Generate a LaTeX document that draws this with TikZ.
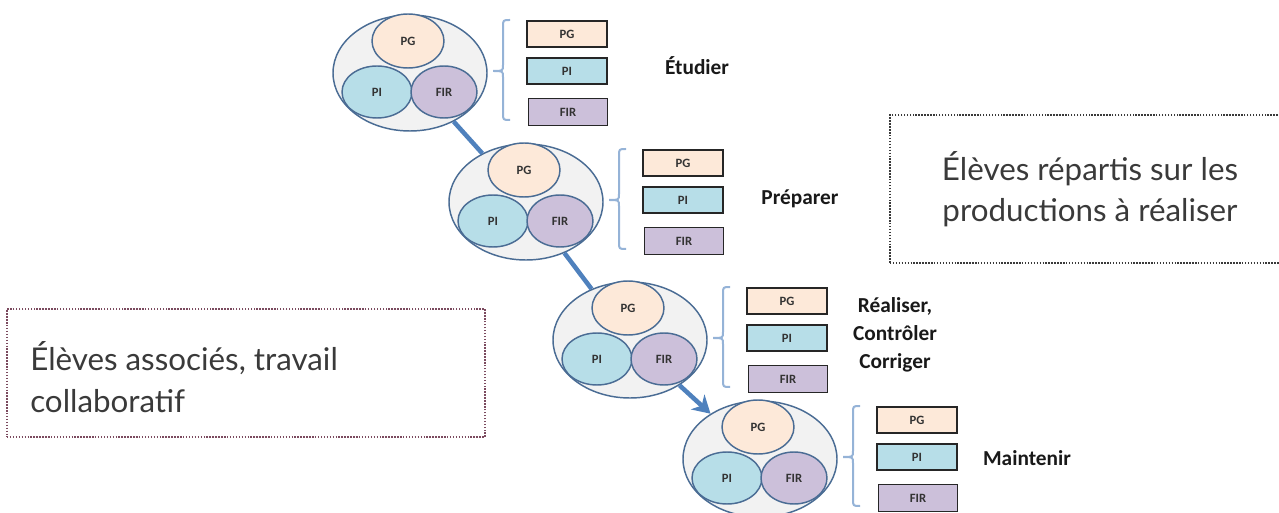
\documentclass[tikz,border=0pt]{standalone}
\usepackage{fontspec}
\setmainfont{Carlito}
\newfontfamily\notefont{Lato}
\usetikzlibrary{shapes.geometric,arrows.meta}
\definecolor{edgeblue}{HTML}{4A6C94}
\definecolor{outerfill}{HTML}{F2F2F2}
\definecolor{pgfill}{HTML}{FDE9D9}
\definecolor{pifill}{HTML}{B7DEE8}
\definecolor{firfill}{HTML}{CCC0DA}
\definecolor{linkblue}{HTML}{4F81BD}
\definecolor{braceblue}{HTML}{95B3D7}
\definecolor{notegray}{HTML}{3A3A3A}
\definecolor{leftdot}{HTML}{7B4A5E}
\begin{document}
\begin{tikzpicture}[x=0.75pt,y=-0.75pt,
  outer/.style={ellipse, draw=edgeblue, line width=1.1pt, fill=outerfill, inner sep=0pt,
    minimum width=154*0.75pt, minimum height=116*0.75pt},
  inner/.style={ellipse, draw=edgeblue, line width=1.1pt, inner sep=0pt,
    font=\bfseries\fontsize{9.5}{10}\selectfont, text=black!80},
  lab/.style={draw=black!85, line width=1.3pt, inner sep=0pt,
    minimum width=80*0.75pt, minimum height=26*0.75pt,
    font=\bfseries\fontsize{9.5}{10}\selectfont, text=black!80},
  stage/.style={font=\bfseries\fontsize{16}{20}\selectfont, align=center, text=black!90},
  link/.style={draw=linkblue, line width=3.4pt},
  bracestyle/.style={draw=braceblue, line width=1.5pt},
  note/.style={font=\notefont\fontsize{23.5}{31}\selectfont, text=notegray},
  dotbox/.style={line width=1.1pt, dash pattern=on 1.1pt off 1.1pt, inner sep=0pt}
]
\useasboundingbox (0,0) rectangle (1279,513);

\foreach \i/\gx/\gy in {1/410/73, 2/526/202, 3/630/340, 4/760/459}{
  \begin{scope}[shift={(\gx,\gy)}]
    \node[outer] (e\i) at (0,0) {};
    \node[inner, fill=pgfill, minimum width=72*0.75pt, minimum height=54*0.75pt] (pg\i) at (-2,-32) {PG};
    \node[inner, fill=pifill, minimum width=70*0.75pt, minimum height=52*0.75pt] (pi\i) at (-33,19) {PI};
    \node[inner, fill=firfill, minimum width=66*0.75pt, minimum height=52*0.75pt] (fir\i) at (34,19) {FIR};
    \draw[bracestyle] (100,-53) .. controls (93,-53) .. (93,-46) -- (93,-8)
      .. controls (93,-2) .. (83,-2) .. controls (93,-2) .. (93,4) -- (93,40)
      .. controls (93,47) .. (100,47);
    \node[lab, fill=pgfill] (rpg\i) at (157,-39) {PG};
    \node[lab, fill=pifill] (rpi\i) at (157,-2) {PI};
    \node[lab, fill=firfill, minimum width=79*0.75pt, minimum height=27*0.75pt] (rfir\i) at (158,39) {FIR};
  \end{scope}
}

\draw[link] (e1) -- (e2);
\draw[link] (e2) -- (e3);
\draw[link, -{Stealth[length=13pt, width=15pt, inset=4pt]}] (e3) -- (e4);

\node[stage] (s1) at (697,66) {Étudier};
\node[stage] (s2) at (800,199) {Préparer};
\node[stage] (s3) at (895,335) {Réaliser,\\[1pt]Contrôler\\[1pt]Corriger};
\node[stage] (s4) at (1027,458) {Maintenir};

\node[dotbox, draw=notegray, minimum width=400*0.75pt, minimum height=148*0.75pt,
  note, align=center] (rbox) at (1090,189) {Élèves répartis sur les\\productions à réaliser};

\node[dotbox, draw=leftdot, minimum width=478*0.75pt, minimum height=128*0.75pt] (lbox) at (246,373) {};
\node[note, align=left, anchor=west, inner sep=0pt] (ltext) at (30,377) {Élèves associés, travail\\collaboratif};
\end{tikzpicture}
\end{document}
